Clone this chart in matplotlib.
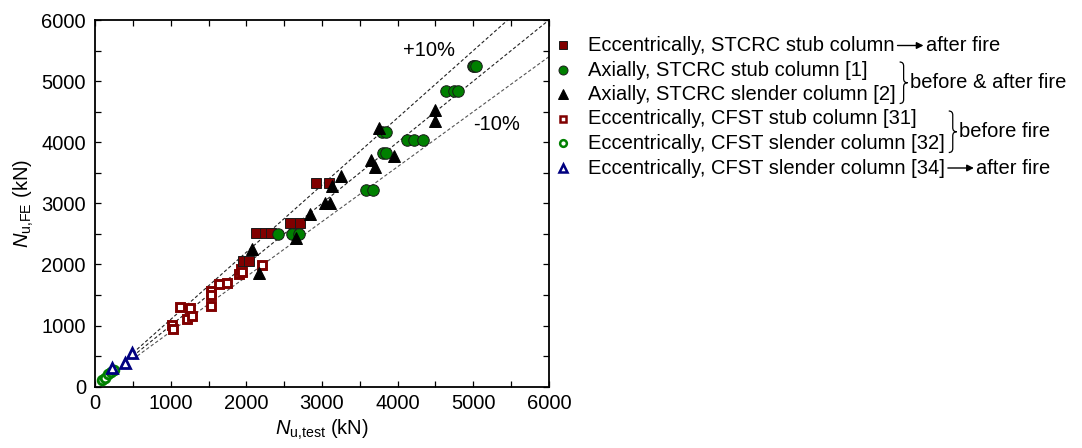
import matplotlib
matplotlib.use("Agg")
import matplotlib.pyplot as plt
import numpy as np
from matplotlib.lines import Line2D
from matplotlib.path import Path
from matplotlib.patches import PathPatch
from matplotlib.ticker import MultipleLocator

plt.rcParams['font.family'] = ['Liberation Sans', 'DejaVu Sans']
plt.rcParams['mathtext.fontset'] = 'custom'
plt.rcParams['mathtext.rm'] = 'Liberation Sans'
plt.rcParams['mathtext.it'] = 'Liberation Sans:italic'
FS = 14.5

# ---- data (kN) ----
ecc_stcrc_stub_test = [1950, 2040, 2130, 2250, 2320, 2580, 2710, 2920, 3090]
ecc_stcrc_stub_fe = [2055, 2055, 2510, 2510, 2510, 2680, 2680, 3330, 3330]

ax_stcrc_stub_test = [2420, 2610, 2700, 3580, 3680, 3790, 3850, 3800, 3850,
                      4120, 4210, 4330, 4640, 4740, 4800, 4990, 5010, 5040]
ax_stcrc_stub_fe = [2500, 2500, 2500, 3220, 3220, 4170, 4170, 3830, 3830,
                    4035, 4035, 4035, 4840, 4840, 4840, 5250, 5250, 5250]

ax_stcrc_slender_test = [2070, 2170, 2660, 2840, 3040, 3100, 3130, 3245,
                         3650, 3700, 3750, 3955, 4495, 4495]
ax_stcrc_slender_fe = [2260, 1860, 2425, 2820, 3000, 3000, 3290, 3450,
                       3710, 3600, 4230, 3775, 4525, 4350]

ecc_cfst_stub_test = [1020, 1025, 1125, 1220, 1260, 1285, 1530, 1530, 1530,
                      1645, 1740, 1905, 1930, 1945, 2205]
ecc_cfst_stub_fe = [1005, 940, 1300, 1110, 1295, 1160, 1565, 1500, 1320,
                    1675, 1700, 1840, 1920, 1870, 1990]

ecc_cfst_slender_test = [90, 130, 175, 215, 250]
ecc_cfst_slender_fe = [105, 150, 200, 240, 270]

ecc_cfst_slender_fire_test = [230, 400, 495]
ecc_cfst_slender_fire_fe = [300, 395, 545]

ratio_lines = [1.1, 1.0, 0.9]
ratio_labels = ["+10%", "-10%"]

legend_labels = [
    "Eccentrically, STCRC stub column",
    "Axially, STCRC stub column [1]",
    "Axially, STCRC slender column [2]",
    "Eccentrically, CFST stub column [31]",
    "Eccentrically, CFST slender column [32]",
    "Eccentrically, CFST slender column [34]",
]

DARKRED = '#800000'
GREEN = '#008000'
NAVY = '#000080'

W, H = 1082, 448
fig = plt.figure(figsize=(W / 100, H / 100), dpi=100)


def fx(x):
    return x / W


def fy(y):
    return 1 - y / H


ax = fig.add_axes([fx(95), fy(386.7), fx(549) - fx(95), fy(20) - fy(386.7)])
ax.set_xlim(0, 6000)
ax.set_ylim(0, 6000)

# 1:1 and +/-10% reference lines
xl = np.array([500.0, 6000.0])
for r, c in zip(ratio_lines, ['#222222', '#222222', '#555555']):
    ax.plot(xl, r * xl, color=c, lw=0.8, ls=(0, (3, 2)), zorder=1)

ax.text(4070, 5493, ratio_labels[0], fontsize=FS, ha='left', va='center')
ax.text(4996, 4298, ratio_labels[1], fontsize=FS, ha='left', va='center')

styles = [
    dict(marker='s', ms=7.6, mfc=DARKRED, mec='#1a1a1a', mew=0.7),
    dict(marker='o', ms=8.3, mfc=GREEN, mec='#1a1a1a', mew=0.7),
    dict(marker='^', ms=9.0, mfc='black', mec='black', mew=0.7),
    dict(marker='s', ms=6.2, mfc='white', mec=DARKRED, mew=2.1),
    dict(marker='o', ms=6.2, mfc='white', mec=GREEN, mew=2.1),
    dict(marker='^', ms=7.2, mfc='white', mec=NAVY, mew=2.0),
]
series = [
    (ecc_cfst_stub_test, ecc_cfst_stub_fe, 3),
    (ecc_cfst_slender_test, ecc_cfst_slender_fe, 4),
    (ecc_cfst_slender_fire_test, ecc_cfst_slender_fire_fe, 5),
    (ecc_stcrc_stub_test, ecc_stcrc_stub_fe, 0),
    (ax_stcrc_stub_test, ax_stcrc_stub_fe, 1),
    (ax_stcrc_slender_test, ax_stcrc_slender_fe, 2),
]
for xs, ys, k in series:
    ax.plot(xs, ys, ls='none', zorder=3, clip_on=False, **styles[k])

ax.xaxis.set_major_locator(MultipleLocator(1000))
ax.yaxis.set_major_locator(MultipleLocator(1000))
ax.xaxis.set_minor_locator(MultipleLocator(500))
ax.yaxis.set_minor_locator(MultipleLocator(500))
ax.tick_params(which='both', direction='in', top=True, right=True,
               length=4, width=0.9, labelsize=FS)
ax.tick_params(axis='x', pad=5.5)
ax.tick_params(axis='y', pad=6.5)
for s in ax.spines.values():
    s.set_linewidth(1.3)

ax.set_xlabel(r'$N_{\mathrm{u{,}test}}$ (kN)', fontsize=FS)
ax.set_ylabel(r'$N_{\mathrm{u{,}FE}}$ (kN)', fontsize=FS)
ax.xaxis.set_label_coords(0.5, -0.085)
ax.yaxis.set_label_coords(-0.13, 0.5)

# legend rows
row_y = [45.5, 70, 94.5, 119, 143.5, 168]
leg_scale = 0.78
texts = []
for k, (lab, y) in enumerate(zip(legend_labels, row_y)):
    st = dict(styles[k])
    st['ms'] = st['ms'] * leg_scale
    if st['mfc'] == 'white':
        st['mew'] = 1.8
    fig.add_artist(Line2D([fx(563)], [fy(y)], transform=fig.transFigure,
                          ls='none', **st))
    texts.append(fig.text(fx(588), fy(y), lab, fontsize=FS,
                          ha='left', va='center'))

fig.canvas.draw()
renderer = fig.canvas.get_renderer()


def right_px(t):
    bb = t.get_window_extent(renderer)
    return bb.x1


def arrow_note(row, text):
    x0 = right_px(texts[row]) + 3
    y = row_y[row]
    ax.annotate('', xy=(fx(x0 + 26), fy(y)), xytext=(fx(x0), fy(y)),
                xycoords=fig.transFigure, textcoords=fig.transFigure,
                arrowprops=dict(arrowstyle='-|>', color='black', lw=1.0,
                                mutation_scale=10, shrinkA=0, shrinkB=0))
    fig.text(fx(x0 + 28), fy(y), text, fontsize=FS, ha='left', va='center')


def brace_note(rows, text):
    x0 = max(right_px(texts[r]) for r in rows) + 4
    yt = row_y[rows[0]] - 8
    yb = row_y[rows[-1]] + 9
    ym = 0.5 * (yt + yb)
    w, r = 8.0, 4.0
    xm = x0 + w / 2
    pts = [(x0, yt), (xm, yt), (xm, yt + r), (xm, ym - r), (xm, ym), (x0 + w, ym),
           (xm, ym), (xm, ym + r), (xm, yb - r), (xm, yb), (x0, yb)]
    codes = [Path.MOVETO, Path.CURVE3, Path.CURVE3, Path.LINETO, Path.CURVE3,
             Path.CURVE3, Path.CURVE3, Path.CURVE3, Path.LINETO, Path.CURVE3,
             Path.CURVE3]
    verts = [(fx(px), fy(py)) for px, py in pts]
    fig.add_artist(PathPatch(Path(verts, codes), transform=fig.transFigure,
                             fc='none', ec='black', lw=0.9))
    fig.text(fx(x0 + w + 2), fy(ym), text, fontsize=FS, ha='left', va='center')


arrow_note(0, "after fire")
brace_note([1, 2], "before & after fire")
brace_note([3, 4], "before fire")
arrow_note(5, "after fire")

fig.savefig("out.png", dpi=100)
